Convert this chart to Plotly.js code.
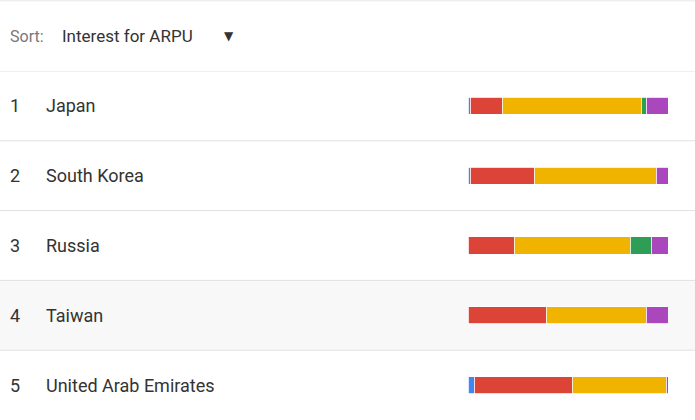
<!DOCTYPE html>
<html>
<head>
<meta charset="utf-8">
<script src="https://cdn.plot.ly/plotly-3.0.1.min.js"></script>
<style>html,body{margin:0;padding:0;background:#fff}#chart{width:695px;height:420px}</style>
</head>
<body>
<div id="chart"></div>
<script>
const countries = ["Japan", "South Korea", "Russia", "Taiwan", "United Arab Emirates"];
const blue = [1, 1, 0, 0, 3];
const red = [16, 32, 23, 39, 49];
const yellow = [69.5, 61, 58, 50, 47];
const green = [2.5, 0, 10.5, 0, 0];
const purple = [11, 6, 8.5, 11, 1];

const rows = countries.map((c, i) => i);
const series = [
	{vals: blue, color: "#4285f4"},
	{vals: red, color: "#db4437"},
	{vals: yellow, color: "#f0b400"},
	{vals: green, color: "#2e9e56"},
	{vals: purple, color: "#ab47bc"}
];

const data = series.map(s => ({
	type: "bar",
	orientation: "h",
	x: s.vals,
	y: rows,
	width: 0.245,
	marker: {color: s.color, line: {color: "#fff", width: 0.8}},
	hoverinfo: "skip"
}));

const font = {family: "Roboto, sans-serif", size: 18, color: "#333"};
const annotations = [
	{text: "Sort:", x: 8 / 695, y: 36, font: {family: "Roboto, sans-serif", size: 16, color: "#777"}},
	{text: "Interest for ARPU", x: 60 / 695, y: 36, font: {family: "Roboto, sans-serif", size: 17, color: "#333"}},
	{text: "▼", x: 222 / 695, y: 36, font: {family: "DejaVu Sans", size: 12, color: "#333"}}
].map(a => Object.assign(a, {xref: "paper", yref: "paper", y: 1 - a.y / 420, xanchor: "left", yanchor: "middle", showarrow: false}));

countries.forEach((c, i) => {
	annotations.push({text: String(i + 1), x: 8 / 695, y: i, xref: "paper", yref: "y", xanchor: "left", yanchor: "middle", showarrow: false, font: font});
	annotations.push({text: c, x: 44 / 695, y: i, xref: "paper", yref: "y", xanchor: "left", yanchor: "middle", showarrow: false, font: font});
});

const shapes = [
	{type: "rect", xref: "paper", yref: "y", x0: 0, x1: 1, y0: 2.5, y1: 3.5, fillcolor: "#f8f8f8", line: {width: 0}, layer: "below"},
	{type: "line", xref: "paper", yref: "paper", x0: 0, x1: 1, y0: 0.998, y1: 0.998, line: {color: "#e6e6e6", width: 1}}
];
[-0.5, 0.5, 1.5, 2.5, 3.5].forEach(y => shapes.push(
	{type: "line", xref: "paper", yref: "y", x0: 0, x1: 1, y0: y, y1: y, line: {color: "#e0e0e0", width: 1}}
));

const layout = {
	width: 695, height: 420,
	margin: {l: 0, r: 0, t: 0, b: 0},
	barmode: "stack",
	showlegend: false,
	paper_bgcolor: "#fff",
	plot_bgcolor: "rgba(0,0,0,0)",
	xaxis: {domain: [468 / 695, 668 / 695], range: [0, 100], visible: false, fixedrange: true},
	yaxis: {domain: [0, 1 - 71 / 420], range: [4.5, -0.5], visible: false, fixedrange: true},
	annotations: annotations,
	shapes: shapes
};

Plotly.newPlot("chart", data, layout, {displayModeBar: false, staticPlot: true});
</script>
</body>
</html>
